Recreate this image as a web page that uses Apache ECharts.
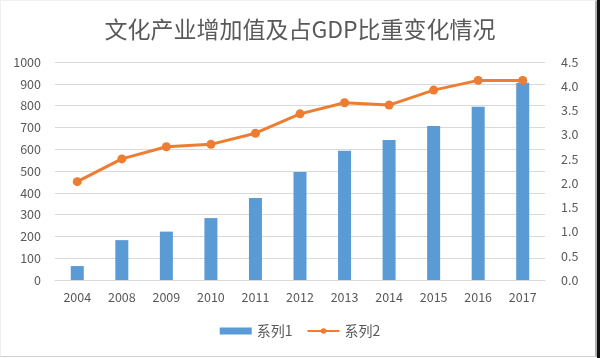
<!DOCTYPE html>
<html><head><meta charset="utf-8">
<script src="https://cdn.jsdelivr.net/npm/echarts@6/dist/echarts.min.js"></script>
<style>
html,body{margin:0;padding:0;background:#fff}
#c{width:600px;height:358px}
#frame{position:absolute;left:0;top:0;width:594px;height:355px;border-left:1px solid #f0f0f0;border-top:1px solid #f0f0f0;border-right:2px solid #b0b0b0;border-bottom:1px solid #d0d0d0;pointer-events:none}
#edge{position:absolute;left:597px;top:0;width:3px;height:358px;background:#111;pointer-events:none}
</style>
</head><body><div id="c"></div><div id="frame"></div><div id="edge"></div>
<script>
const categories = ['2004','2008','2009','2010','2011','2012','2013','2014','2015','2016','2017'];
const series1 = [64, 183, 222, 284, 376, 495, 593, 642, 706, 795, 905];
const series2 = [2.03, 2.50, 2.75, 2.80, 3.03, 3.43, 3.66, 3.61, 3.92, 4.12, 4.12];
const seriesNames = ['系列1', '系列2'];
const titleText = '文化产业增加值及占GDP比重变化情况';

const font = '"Noto Sans CJK SC", "Noto Sans", sans-serif';
const chart = echarts.init(document.getElementById('c'));
chart.setOption({
  animation: false,
  title: { text: titleText, left: 'center', top: 13,
    textStyle: { fontFamily: font, fontSize: 23, fontWeight: 'normal', color: '#595959' } },
  grid: { left: 55, right: 55, top: 62, bottom: 78 },
  legend: { bottom: 15, itemGap: 14, itemWidth: 32, itemHeight: 7,
    textStyle: { fontFamily: font, fontSize: 14, color: '#595959' },
    data: [{ name: seriesNames[0], icon: 'rect' }, { name: seriesNames[1] }] },
  xAxis: { type: 'category', data: categories,
    axisLine: { lineStyle: { color: '#d9d9d9' } }, axisTick: { show: false },
    axisLabel: { fontFamily: font, fontSize: 12.5, color: '#595959', margin: 11 } },
  yAxis: [
    { type: 'value', min: 0, max: 1000, interval: 100,
      axisLabel: { fontFamily: font, fontSize: 12.5, color: '#595959', margin: 14,
        formatter: v => String(v) },
      splitLine: { lineStyle: { color: '#d9d9d9' } }, axisLine: { show: false } },
    { type: 'value', min: 0, max: 4.5, interval: 0.5,
      axisLabel: { fontFamily: font, fontSize: 12.5, color: '#595959', margin: 16,
        formatter: v => v.toFixed(1) },
      splitLine: { show: false }, axisLine: { show: false } }
  ],
  series: [
    { name: seriesNames[0], type: 'bar', data: series1, barWidth: 13,
      itemStyle: { color: '#5b9bd5' } },
    { name: seriesNames[1], type: 'line', yAxisIndex: 1, data: series2,
      symbol: 'circle', symbolSize: 9,
      lineStyle: { color: '#ed7d31', width: 3 }, itemStyle: { color: '#ed7d31' } }
  ]
});
</script></body></html>
